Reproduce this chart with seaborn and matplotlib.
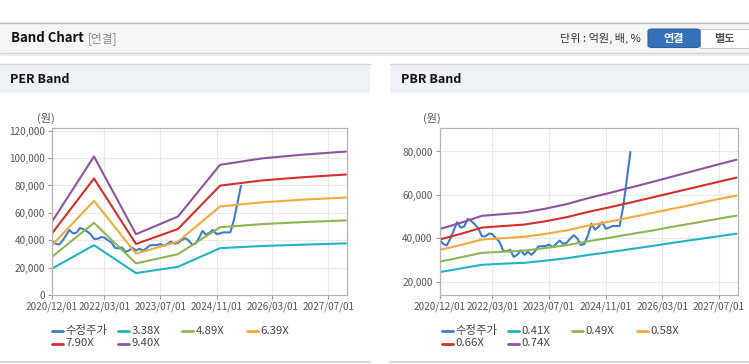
import matplotlib
matplotlib.use("Agg")
import matplotlib.pyplot as plt
from matplotlib.lines import Line2D
from matplotlib.patches import Rectangle, FancyBboxPatch
from matplotlib.ticker import FuncFormatter
import seaborn as sns
import pandas as pd

W, H = 749, 364

# monthly adjusted price (수정주가), 2020/12 .. 2025/06
price_dates = pd.date_range("2020-12-01", periods=55, freq="MS")
price = [
    39500, 37500, 36800, 39500, 43500, 47500, 45000, 45500, 49000, 48000,
    46500, 44500, 41000, 41000, 42300, 42000, 40000, 38500, 34500, 34000,
    34800, 31500, 32500, 34500, 32500, 33800, 32500, 34000, 36300, 36500,
    36500, 37200, 36000, 37500, 39000, 37500, 38000, 40000, 41500, 40000,
    37000, 37500, 41500, 46800, 44000, 45500, 47500, 44500, 45000, 45800,
    45700, 45800, 55000, 67000, 79800,
]

# PER band, yearly points (Dec)
per_dates = pd.to_datetime([
    "2020-12-01", "2021-12-01", "2022-12-01", "2023-12-01",
    "2024-12-01", "2025-12-01", "2026-12-01", "2027-12-01",
])
per_338 = [19300, 36400, 16000, 20600, 34200, 35800, 36800, 37700]
per_489 = [27900, 52700, 23100, 29800, 49500, 51800, 53300, 54500]
per_639 = [36400, 68800, 30200, 39000, 64700, 67700, 69700, 71200]
per_790 = [45000, 85100, 37300, 48200, 79900, 83700, 86100, 88000]
per_940 = [53600, 101200, 44400, 57300, 95100, 99800, 102600, 104800]

# PBR band, half-year points
pbr_dates = pd.date_range("2020-12-01", "2027-12-01", freq="6MS")
pbr_041 = [24500, 26200, 27900, 28400, 28800, 29800, 30900, 32400,
           33700, 35100, 36500, 38000, 39400, 40800, 42200]
pbr_049 = [29300, 31300, 33400, 33900, 34400, 35600, 36900, 38700,
           40300, 42000, 43600, 45400, 47100, 48800, 50500]
pbr_058 = [34700, 37000, 39500, 40100, 40800, 42100, 43700, 45900,
           47700, 49700, 51700, 53700, 55700, 57800, 59700]
pbr_066 = [39500, 42100, 45000, 45700, 46400, 47900, 49800, 52200,
           54300, 56500, 58800, 61100, 63400, 65700, 68000]
pbr_074 = [44300, 47200, 50400, 51200, 52000, 53700, 55800, 58500,
           60900, 63400, 65900, 68500, 71100, 73700, 76200]

tick_dates = pd.to_datetime(["2020-12-01", "2022-03-01", "2023-07-01",
                             "2024-11-01", "2026-03-01", "2027-07-01"])
tick_labels = ["2020/12/01", "2022/03/01", "2023/07/01",
               "2024/11/01", "2026/03/01", "2027/07/01"]

colors = ["#3d7ccb", "#22b3c3", "#8db552", "#f3a93c", "#d1302c", "#8d53a1"]

sns.set_theme(style="white")
plt.rcParams["font.family"] = ["Noto Sans CJK KR", "DejaVu Sans"]


def fx(x):
    return x / W


def fy(y):
    return 1 - y / H


def long_frame(band_dates, bands):
    parts = [pd.DataFrame({"date": price_dates, "value": price, "series": "수정주가"})]
    for name, vals in bands.items():
        parts.append(pd.DataFrame({"date": band_dates, "value": vals, "series": name}))
    return pd.concat(parts, ignore_index=True)


def draw_band(ax, df, names, yticks, ylim):
    sns.lineplot(data=df, x="date", y="value", hue="series", hue_order=names,
                 palette=colors, linewidth=1.5, estimator=None, legend=False, ax=ax)
    ax.set_xlim(pd.Timestamp("2020-12-01"), pd.Timestamp("2027-12-10"))
    ax.set_ylim(*ylim)
    ax.set_xticks(tick_dates)
    ax.set_xticklabels(tick_labels)
    ax.set_yticks(yticks)
    ax.yaxis.set_major_formatter(FuncFormatter(lambda v, _: f"{v:,.0f}"))
    ax.set_xlabel("")
    ax.set_ylabel("")
    ax.grid(True, color="#e8e8e8", linewidth=0.8)
    ax.set_axisbelow(True)
    for s in ax.spines.values():
        s.set_color("#b4b4b4")
        s.set_linewidth(0.9)
    ax.tick_params(axis="both", labelsize=7.2, colors="#999999", labelcolor="#555555",
                   length=3, width=0.8, pad=2, bottom=True, left=True)


def draw_legend(fig, names, x_cols, rows_y):
    for i, name in enumerate(names):
        x = x_cols[i % 4]
        y = rows_y[i // 4]
        fig.add_artist(Line2D([fx(x), fx(x + 11)], [fy(y), fy(y)], color=colors[i],
                              linewidth=2, transform=fig.transFigure))
        fig.text(fx(x + 13.5), fy(y), name, fontsize=8.2, color="#444444",
                 va="center", ha="left")


def rect(fig, x0, y0, x1, y1, color, **kw):
    fig.add_artist(Rectangle((fx(x0), fy(y1)), fx(x1) - fx(x0), fy(y0) - fy(y1),
                             transform=fig.transFigure, facecolor=color,
                             edgecolor="none", **kw))


def hline(fig, x0, x1, y, color, lw=1.0):
    fig.add_artist(Line2D([fx(x0), fx(x1)], [fy(y), fy(y)], color=color,
                          linewidth=lw, transform=fig.transFigure))


fig = plt.figure(figsize=(W / 100, H / 100), dpi=100)
fig.patch.set_facecolor("white")

# top header bar
rect(fig, 0, 22, W, 53, "#f5f5f5")
hline(fig, 0, W, 22.5, "#bdbdbd")
hline(fig, 0, W, 53, "#d2d2d2")
hline(fig, 0, W, 54.5, "#ececec", 1.5)
fig.text(fx(11), fy(38.5), "Band Chart", fontsize=9.5, fontweight="bold",
         color="#111111", va="center")
fig.text(fx(88), fy(38.5), "[연결]", fontsize=8.5, color="#8a8a8a", va="center")
fig.text(fx(641), fy(38.5), "단위 : 억원, 배, %", fontsize=8, color="#333333",
         va="center", ha="right")
fig.add_artist(FancyBboxPatch((fx(700), fy(47.5)), fx(49), fy(29) - fy(47.5),
                              boxstyle="square,pad=0", transform=fig.transFigure,
                              facecolor="white", edgecolor="#c8c8c8", linewidth=0.8))
fig.add_artist(FancyBboxPatch((fx(648), fy(47.5)), fx(52), fy(29) - fy(47.5),
                              boxstyle="round,pad=0,rounding_size=0.006",
                              transform=fig.transFigure,
                              facecolor="#3473b9", edgecolor="#2c63a3", linewidth=0.8))
fig.text(fx(674), fy(38.5), "연결", fontsize=8, fontweight="bold", color="white",
         va="center", ha="center")
fig.text(fx(724), fy(38.5), "별도", fontsize=8, fontweight="bold", color="#555555",
         va="center", ha="center")

# panel headers
for x0, x1, title in [(0, 370, "PER Band"), (390, W, "PBR Band")]:
    rect(fig, x0, 64, x1, 92.5, "#eef2f7")
    hline(fig, x0, x1, 64, "#d6d6d6")
    hline(fig, x0, x1, 362, "#d0d0d0", 1.2)
    fig.text(fx(x0 + 10 + (1 if x0 else 0)), fy(79.5), title, fontsize=9,
             fontweight="bold", color="#111111", va="center")

per_names = ["수정주가", "3.38X", "4.89X", "6.39X", "7.90X", "9.40X"]
pbr_names = ["수정주가", "0.41X", "0.49X", "0.58X", "0.66X", "0.74X"]

ax1 = fig.add_axes([fx(52), fy(295), fx(347) - fx(52), fy(128) - fy(295)])
df_per = long_frame(per_dates, dict(zip(per_names[1:],
                                        [per_338, per_489, per_639, per_790, per_940])))
draw_band(ax1, df_per, per_names, range(0, 120001, 20000), (0, 122000))

ax2 = fig.add_axes([fx(439.5), fy(295), fx(737.5) - fx(439.5), fy(128) - fy(295)])
df_pbr = long_frame(pbr_dates, dict(zip(pbr_names[1:],
                                        [pbr_041, pbr_049, pbr_058, pbr_066, pbr_074])))
draw_band(ax2, df_pbr, pbr_names, range(20000, 80001, 20000), (14000, 90800))

fig.text(fx(37), fy(118), "(원)", fontsize=8, color="#555555", va="center")
fig.text(fx(423), fy(118), "(원)", fontsize=8, color="#555555", va="center")

draw_legend(fig, per_names, [52, 117.7, 182.3, 246.7], [330.5, 343.5])
draw_legend(fig, pbr_names, [442.3, 507.7, 572.3, 636.7], [330.5, 343.5])

fig.savefig("out.png", dpi=100, facecolor="white")
